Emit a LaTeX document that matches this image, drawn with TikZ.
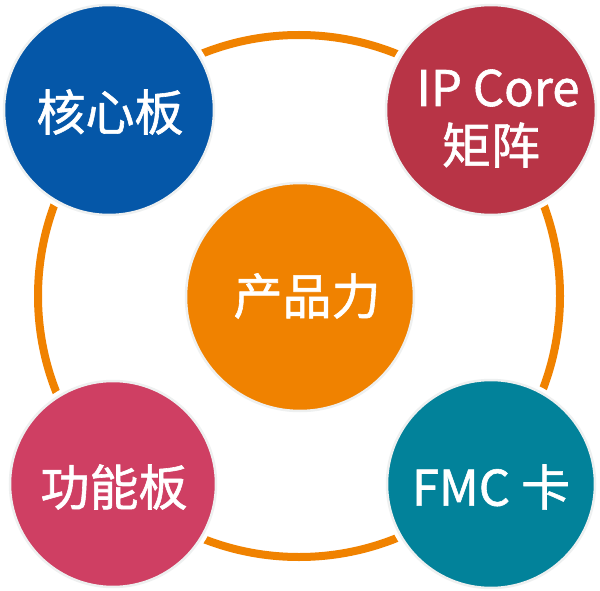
\documentclass[tikz,border=0pt]{standalone}
\usepackage{fontspec}
\setmainfont{Noto Sans CJK SC}
\newfontfamily\cjk[FakeBold=1.2]{Noto Sans CJK SC}
\definecolor{cblue}{HTML}{0557A8}
\definecolor{cred}{HTML}{B83446}
\definecolor{corange}{HTML}{F08200}
\definecolor{cpink}{HTML}{CF3F63}
\definecolor{cteal}{HTML}{02829A}
\definecolor{halo}{HTML}{EEF0F0}
\begin{document}
\begin{tikzpicture}[x=1pt,y=-1pt,
  ringstyle/.style={circle, draw=corange, line width=8pt, inner sep=0pt, minimum size=522pt},
  ball/.style={circle, fill=#1, inner sep=0pt,
     preaction={draw=white, line width=10pt},
     postaction={draw=halo, line width=2.5pt}},
  label/.style={text=white, align=center, inner sep=0pt, font=\cjk\fontsize{49}{58}\selectfont},
]
\useasboundingbox (0,0) rectangle (600,591);
\fill[white] (0,0) rectangle (600,591);
\node[ringstyle] (ring) at (299,296) {};
\node[ball=cblue, minimum size=210pt] (core) at (109,110) {};
\node[label] (coret) at (110,112) {核心板};
\node[ball=cred, minimum size=210pt] (ip) at (491,110) {};
\node[label] (ipt1) at (498,88) {IP Core};
\node[label] (ipt2) at (491,145) {矩阵};
\node[ball=cpink, minimum size=206pt] (func) at (113,484) {};
\node[label] (funct) at (114,487) {功能板};
\node[ball=cteal, minimum size=208pt] (fmc) at (491,484) {};
\node[label] (fmct) at (491,487) {FMC 卡};
\node[ball=corange, minimum size=228pt] (prod) at (300,297) {};
\node[label] (prodt) at (307,296) {产品力};
\end{tikzpicture}
\end{document}
